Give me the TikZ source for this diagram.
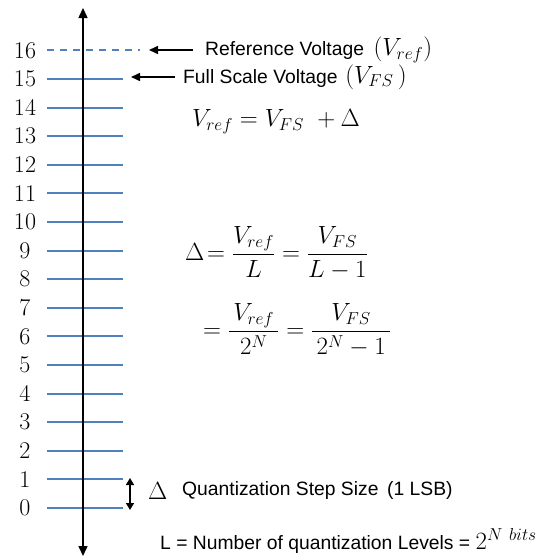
\documentclass[tikz,border=0pt]{standalone}
\usepackage{amsmath}
\usepackage{fontspec}
\newfontfamily\arial{Liberation Sans}
\usetikzlibrary{arrows.meta}
\definecolor{lvlblue}{HTML}{4F81BD}
\tikzset{
  level/.style={draw=lvlblue, line width=2pt},
  dlevel/.style={draw=lvlblue, line width=2pt, dash pattern=on 7pt off 6pt},
  num/.style={anchor=center, inner sep=0pt, font=\fontsize{24}{24}\selectfont},
  lbl/.style={anchor=west, inner sep=0pt, font=\arial\fontsize{19.3}{20}\selectfont},
  eq/.style={inner sep=0pt, font=\fontsize{25}{27}\selectfont},
  axisarrow/.style={draw=black, line width=1.5pt, -{Triangle[length=10pt,width=9pt]}},
  ptr/.style={draw=black, line width=1.5pt, -{Triangle[length=9pt,width=8pt]}},
  dbl/.style={draw=black, line width=1.5pt, {Triangle[length=7pt,width=8pt]}-{Triangle[length=7pt,width=8pt]}}
}
\begin{document}
\begin{tikzpicture}[x=1pt,y=-1pt]
\useasboundingbox (0,0) rectangle (536,557);
% levels
\foreach \k in {0,...,15}{
  \coordinate (l\k) at (47,{508-28.6*\k});
  \coordinate (r\k) at (123,{508-28.6*\k});
  \draw[level] (l\k) -- (r\k);
  \node[num] (n\k) at (25,{508-28.6*\k}) {\k};
}
\coordinate (l16) at (47,{508-28.6*16});
\coordinate (r16) at (140,{508-28.6*16});
\draw[dlevel] (l16) -- (r16);
\node[num] (n16) at (25,{508-28.6*16}) {16};
% axis
\coordinate (axtop) at (83,8);
\coordinate (axbot) at (83,556);
\coordinate (axmid) at (83,280);
\draw[axisarrow] (axmid) -- (axtop);
\draw[axisarrow] (axmid) -- (axbot);
% reference voltage
\node[lbl] (reftxt) at (205,50) {Reference Voltage\hspace{0.5em}{\fontsize{24}{24}\selectfont$(V_{ref})$}};
\coordinate (refa) at (193,50);
\coordinate (refb) at (149,50);
\draw[ptr] (refa) -- (refb);
% full scale voltage
\node[lbl] (fstxt) at (183,77) {Full Scale Voltage\hspace{0.4em}{\fontsize{24}{24}\selectfont$(V_{FS}\,)$}};
\coordinate (fsa) at (175,77);
\coordinate (fsb) at (131,77);
\draw[ptr] (fsa) -- (fsb);
% equations
\node[eq, anchor=west] (eq1) at (192,122) {$V_{ref} = V_{FS}\ + \Delta$};
\node[eq, anchor=west] (eq2) at (185,253) {$\Delta\!= \dfrac{V_{ref}}{L} = \dfrac{V_{FS}}{L-1}$};
\node[eq, anchor=west] (eq3) at (203,330) {$= \dfrac{\,V_{ref}\,}{2^N} = \dfrac{\;V_{FS}\;}{\,2^N-1\,}$};
% step size
\coordinate (sa) at (130,478);
\coordinate (sb) at (130,510);
\draw[dbl] (sa) -- (sb);
\node[eq, anchor=west] (dl) at (148,491) {$\Delta$};
\node[lbl] (qtxt) at (182,491) {Quantization Step Size\hspace{0.45em}(1 LSB)};
\node[lbl] (ltxt) at (160,541) {L = Number of quantization Levels = {\fontsize{24}{24}\selectfont$2^{N\ bits}$}};
\end{tikzpicture}
\end{document}
